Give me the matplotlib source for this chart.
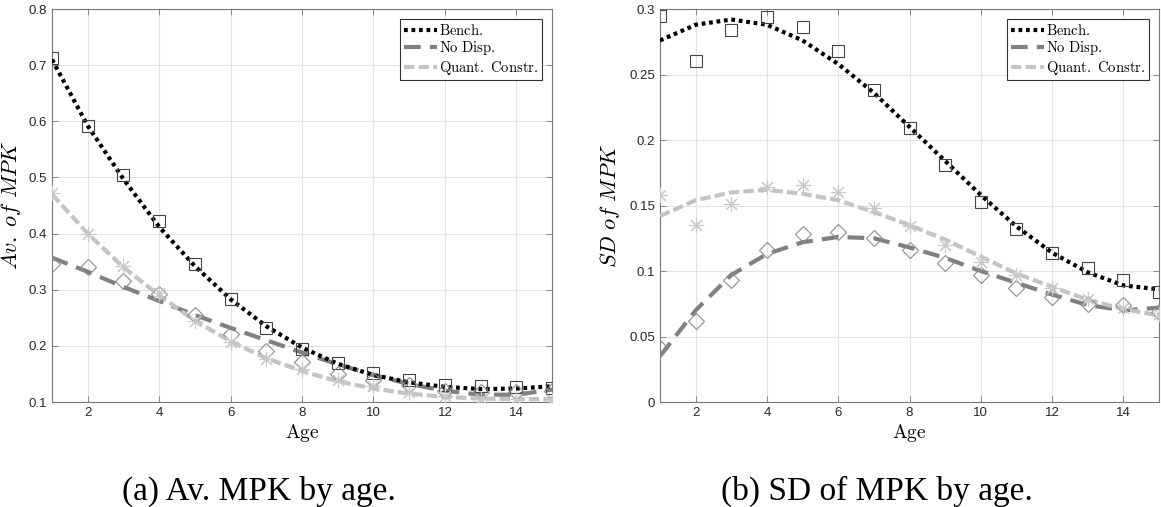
import matplotlib.pyplot as plt
from matplotlib.ticker import FormatStrFormatter
import numpy as np

plt.rcParams['mathtext.fontset'] = 'cm'

age = np.arange(1, 16)

# (a) Av. MPK by age -- fitted lines and data markers
avg_bench_line = [0.710, 0.592, 0.497, 0.412, 0.342, 0.283, 0.235, 0.197, 0.168, 0.148, 0.135, 0.127, 0.123, 0.124, 0.128]
avg_nodisp_line = [0.357, 0.332, 0.305, 0.280, 0.255, 0.232, 0.210, 0.188, 0.167, 0.148, 0.132, 0.120, 0.113, 0.113, 0.122]
avg_quant_line = [0.470, 0.400, 0.340, 0.290, 0.245, 0.208, 0.178, 0.155, 0.137, 0.124, 0.115, 0.109, 0.106, 0.105, 0.105]
avg_bench_pts = [0.713, 0.591, 0.504, 0.422, 0.345, 0.283, 0.231, 0.194, 0.169, 0.152, 0.139, 0.131, 0.128, 0.127, 0.125]
avg_nodisp_pts = [0.345, 0.340, 0.315, 0.292, 0.255, 0.222, 0.190, 0.172, 0.150, 0.140, 0.130, 0.120, 0.118, 0.118, 0.120]
avg_quant_pts = [0.472, 0.400, 0.342, 0.295, 0.244, 0.206, 0.176, 0.158, 0.140, 0.128, 0.118, 0.110, 0.105, 0.105, 0.103]

# (b) SD of MPK by age
sd_bench_line = [0.276, 0.288, 0.292, 0.288, 0.276, 0.258, 0.236, 0.210, 0.184, 0.158, 0.134, 0.114, 0.099, 0.089, 0.086]
sd_nodisp_line = [0.035, 0.070, 0.097, 0.113, 0.122, 0.126, 0.125, 0.118, 0.110, 0.100, 0.091, 0.082, 0.074, 0.070, 0.072]
sd_quant_line = [0.142, 0.154, 0.160, 0.162, 0.159, 0.154, 0.145, 0.135, 0.124, 0.111, 0.098, 0.088, 0.078, 0.071, 0.066]
sd_bench_pts = [0.295, 0.260, 0.284, 0.294, 0.286, 0.268, 0.238, 0.209, 0.181, 0.153, 0.132, 0.114, 0.102, 0.093, 0.084]
sd_nodisp_pts = [0.041, 0.062, 0.093, 0.116, 0.128, 0.130, 0.125, 0.116, 0.106, 0.097, 0.087, 0.080, 0.075, 0.074, 0.069]
sd_quant_pts = [0.158, 0.135, 0.151, 0.164, 0.166, 0.160, 0.148, 0.134, 0.120, 0.107, 0.097, 0.087, 0.079, 0.072, 0.067]

labels = [r'$\mathrm{Bench.}$', r'$\mathrm{No\ Disp.}$', r'$\mathrm{Quant.\ Constr.}$']
c_bench, c_nodisp, c_quant = 'black', '#808080', '#c4c4c4'

fig = plt.figure(figsize=(11.61, 5.07), dpi=100)
ax1 = fig.add_axes([0.0448, 0.2071, 0.4307, 0.7751])
ax2 = fig.add_axes([0.5685, 0.2071, 0.4298, 0.7751])


def draw(ax, lines, pts, ylim, yticks, ylabel, ylab_x):
    bl, nl, ql = lines
    bp, np_, qp = pts
    ax.plot(age, bl, color=c_bench, lw=3, linestyle=(0, (0.9, 0.9)), label=labels[0], zorder=4)
    ax.plot(age, nl, color=c_nodisp, lw=3, linestyle=(0, (4, 2.2)), label=labels[1], zorder=3)
    ax.plot(age, ql, color=c_quant, lw=3, linestyle=(0, (2.5, 1)), label=labels[2], zorder=3)
    ax.plot(age, bp, ls='none', marker='s', ms=9, mfc='none', mec='#444444', mew=0.8, zorder=5)
    ax.plot(age, np_, ls='none', marker='D', ms=8, mfc='none', mec='#8c8c8c', mew=0.8, zorder=5)
    ax.plot(age, qp, ls='none', marker=(8, 2, 0), ms=11, mfc='none', mec='#c8c8c8', mew=0.8, zorder=5)

    ax.set_xlim(1, 15)
    ax.set_ylim(*ylim)
    ax.set_xticks(np.arange(2, 15, 2))
    ax.set_yticks(yticks)
    ax.yaxis.set_major_formatter(FormatStrFormatter('%g'))
    ax.grid(True, color='#e3e3e3', lw=0.8)
    ax.set_axisbelow(True)
    for s in ax.spines.values():
        s.set_color('#777777')
        s.set_linewidth(0.8)
    ax.tick_params(direction='in', length=4, width=0.6, color='#777777',
                   top=True, right=True, labelsize=9.5, labelcolor='#262626')
    for lab in ax.get_xticklabels() + ax.get_yticklabels():
        lab.set_fontfamily('Liberation Sans')
    ax.set_xlabel(r'$\mathrm{Age}$', fontsize=14, labelpad=2)
    ax.set_ylabel(ylabel, fontsize=16)
    ax.yaxis.set_label_coords(ylab_x, 0.5)
    leg = ax.legend(loc='upper right', fontsize=10.5, handlelength=2.3, handletextpad=0.1,
                    borderpad=0.25, labelspacing=0.1, fancybox=False, framealpha=1,
                    borderaxespad=0.7)
    leg.get_frame().set_edgecolor('#333333')
    leg.get_frame().set_linewidth(0.8)


draw(ax1, (avg_bench_line, avg_nodisp_line, avg_quant_line),
     (avg_bench_pts, avg_nodisp_pts, avg_quant_pts),
     (0.1, 0.8), np.arange(0.1, 0.81, 0.1), r'$Av.\ of\ MPK$', -0.058)
draw(ax2, (sd_bench_line, sd_nodisp_line, sd_quant_line),
     (sd_bench_pts, sd_nodisp_pts, sd_quant_pts),
     (0, 0.3), np.arange(0, 0.31, 0.05), r'$SD\ of\ MPK$', -0.076)

fig.text(259 / 1161, 0.03, '(a) Av. MPK by age.', ha='center', va='center',
         fontsize=24, family='Liberation Serif')
fig.text(877 / 1161, 0.03, '(b) SD of MPK by age.', ha='center', va='center',
         fontsize=24, family='Liberation Serif')

fig.savefig('out.png', dpi=100)
